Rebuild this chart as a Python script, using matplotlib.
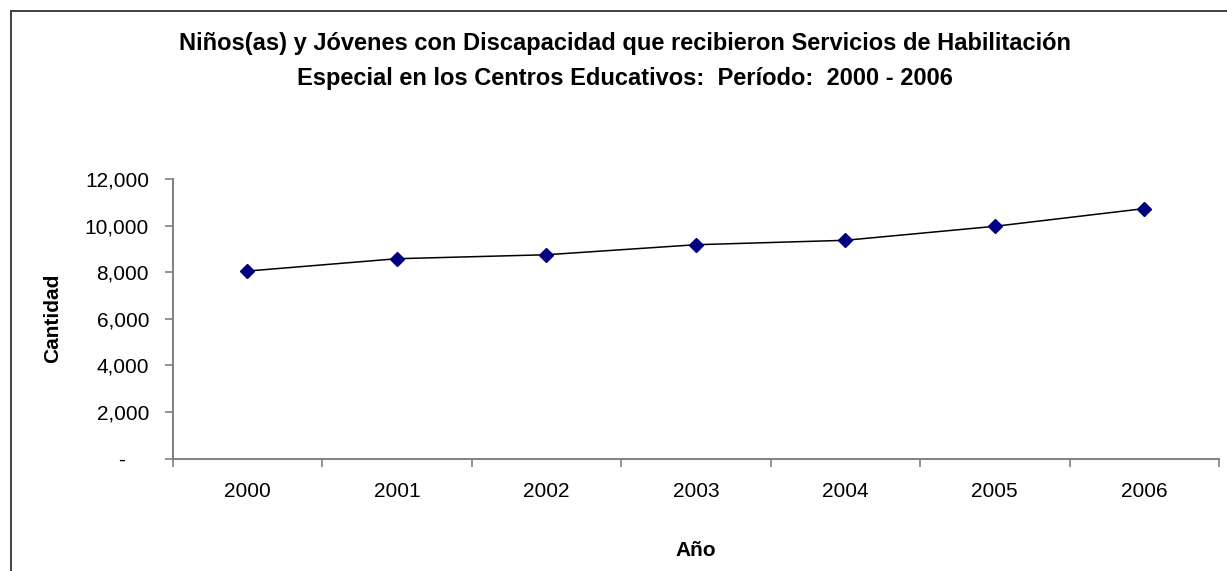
import matplotlib
matplotlib.use("Agg")
from matplotlib import pyplot as plt
from matplotlib.patches import Rectangle
from matplotlib.ticker import FuncFormatter
import numpy as np

years = ["2000", "2001", "2002", "2003", "2004", "2005", "2006"]
cantidad = [8050, 8580, 8750, 9180, 9370, 9970, 10730]
yticks = [0, 2000, 4000, 6000, 8000, 10000, 12000]

TITLE = ("Niños(as) y Jóvenes con Discapacidad que recibieron Servicios de Habilitación\n"
         "Especial en los Centros Educativos:  Período:  2000 - 2006")

W, H = 1227, 571
plt.rcParams['font.family'] = ['Liberation Sans', 'DejaVu Sans']

fig = plt.figure(figsize=(W / 100, H / 100), dpi=100)
ax = fig.add_axes([172.7 / W, 1 - 458.7 / H, (1219 - 172.7) / W, (458.7 - 179) / H])

x = np.arange(len(years))
ax.plot(x, cantidad, color="black", linewidth=1.1, marker="D", markersize=7.5,
        markerfacecolor="#000080", markeredgecolor="#000080", zorder=3)

ax.set_xlim(-0.5, len(years) - 0.5)
ax.set_ylim(yticks[0], yticks[-1])

# category boundaries get the tick marks, labels sit in the middle
ax.set_xticks(np.arange(len(years) + 1) - 0.5)
ax.set_xticklabels([])
ax.set_xticks(x, minor=True)
ax.set_xticklabels(years, minor=True)
ax.tick_params(axis="x", which="minor", length=0, pad=16.5, labelsize=15)
ax.tick_params(axis="x", which="major", length=6, width=1.2, color="#808080")

ax.set_yticks(yticks)
ax.yaxis.set_major_formatter(FuncFormatter(lambda v, p: "-    " if v == 0 else f"{int(v):,}"))
ax.tick_params(axis="y", length=6, width=1.2, color="#808080", pad=11, labelsize=15)

for s in ["top", "right"]:
    ax.spines[s].set_visible(False)
for s in ["left", "bottom"]:
    ax.spines[s].set_color("#808080")
    ax.spines[s].set_linewidth(1.4)

fig.text(625 / W, 1 - 61 / H, TITLE, ha="center", va="center", fontsize=17,
         fontweight="bold", linespacing=1.66)
fig.text(53 / W, 1 - 318 / H, "Cantidad", rotation=90, ha="center", va="center",
         fontsize=15, fontweight="bold")
fig.text(696 / W, 1 - 550 / H, "Año", ha="center", va="center",
         fontsize=15, fontweight="bold")

# chart area border (only left and top edges fall inside the picture)
fig.add_artist(Rectangle((11 / W, -0.5), 2, 1.5 - 11 / H, transform=fig.transFigure,
                         fill=False, edgecolor="#404040", linewidth=1.4, clip_on=False))

fig.savefig("out.png", dpi=100)
